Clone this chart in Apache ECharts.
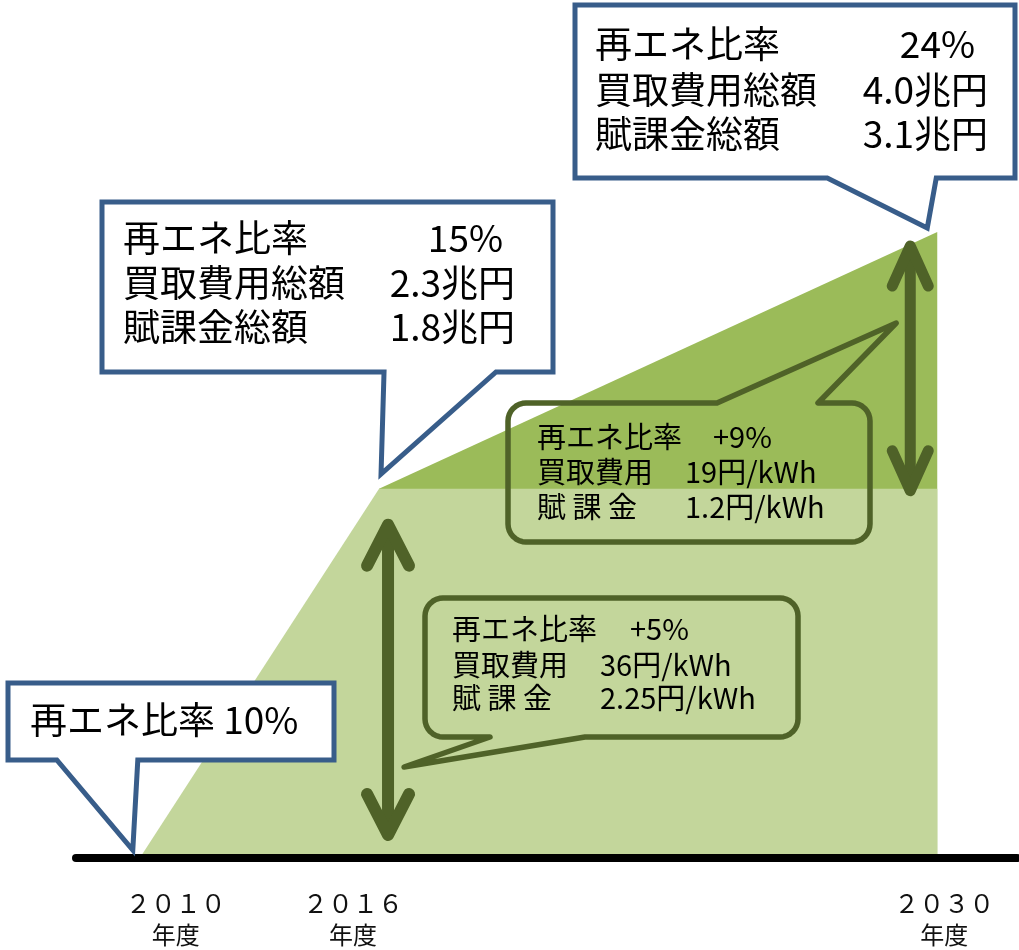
<!DOCTYPE html>
<html>
<head>
<meta charset="utf-8">
<script src="https://cdn.jsdelivr.net/npm/echarts@6.0.0/dist/echarts.min.js"></script>
<style>
html,body{margin:0;padding:0;background:#fff;}
#chart{width:1019px;height:950px;}
</style>
</head>
<body>
<div id="chart"></div>
<script>
// ---- data (schematic heights; 0 = axis, 100 = 2030 top) ----
const years = [2010, 2016, 2030];
const yearLabels = ['２０１０', '２０１６', '２０３０'];
const yearSuffix = '年度';
const levelBase = [0, 59, 59];      // light band (level reached by 2016)
const levelAdd = [null, 0, 41];     // dark band (increase 2016 → 2030)

const note2010 = '再エネ比率 10%';
const note2016 = [['再エネ比率', '15%'], ['買取費用総額', '2.3兆円'], ['賦課金総額', '1.8兆円']];
const note2030 = [['再エネ比率', '24%'], ['買取費用総額', '4.0兆円'], ['賦課金総額', '3.1兆円']];
const step1 = [['再エネ比率', '+5%'], ['買取費用', '36円/kWh'], ['賦 課 金', '2.25円/kWh']];
const step2 = [['再エネ比率', '+9%'], ['買取費用', '19円/kWh'], ['賦 課 金', '1.2円/kWh']];

// ---- styles ----
const FONT = '"Noto Sans CJK JP", "Noto Sans", sans-serif';
const LIGHT = '#c3d69b', DARK = '#9bbb59', OLIVE = '#4f6228', BLUE = '#385d8a';

const chart = echarts.init(document.getElementById('chart'), null, {renderer: 'canvas'});

const labelShift = {
  d0: [0, 0, 0, 72], d1: [0, 52, 0, 0], d2: [0, 0, 0, 14]
};
const rich = {};
[0, 1, 2].forEach(i => {
  rich['d' + i] = {fontSize: 25, fontFamily: FONT, color: '#111', lineHeight: 32, padding: labelShift['d' + i]};
  rich['n' + i] = {fontSize: 24, fontFamily: FONT, color: '#111', lineHeight: 32, padding: labelShift['d' + i]};
});

// total level (base + increment) for the upper band
const levelTotal = levelAdd.map((v, i) => v == null ? null : levelBase[i] + v);

chart.setOption({
  animation: false,
  backgroundColor: '#fff',
  grid: {left: 76, right: 2, top: 232, bottom: 92, containLabel: false, outerBoundsMode: 'none'},
  xAxis: {
    type: 'value', min: 2008.4, max: 2032, z: 5,
    axisLine: {show: true, onZero: true, lineStyle: {color: '#000', width: 8}},
    axisTick: {show: false},
    splitLine: {show: false},
    axisLabel: {
      customValues: years,
      margin: 29,
      formatter: function (v) {
        const i = years.indexOf(v);
        return '{d' + i + '|' + yearLabels[i] + '}\n{n' + i + '|' + yearSuffix + '}';
      },
      rich: rich
    }
  },
  yAxis: {type: 'value', min: 0, max: 100, show: false},
  series: [
    {
      name: 'upper', type: 'line', symbol: 'none', showSymbol: false, z: 1,
      data: years.map((y, i) => [y, levelTotal[i]]).filter(d => d[1] != null),
      lineStyle: {width: 0, opacity: 0},
      areaStyle: {color: DARK, opacity: 1}
    },
    {
      name: 'base', type: 'line', symbol: 'none', showSymbol: false, z: 2,
      data: years.map((y, i) => [y, levelBase[i]]),
      lineStyle: {width: 0, opacity: 0},
      areaStyle: {color: LIGHT, opacity: 1}
    }
  ]
});

// ---- annotations anchored to the chart's own scale ----
const P = (x, y) => chart.convertToPixel({seriesIndex: 1}, [x, y]);
const p10 = P(2010, 0), p16 = P(2016, 59), p30 = P(2030, 100);
const y0 = P(2010, 0)[1];
const d10 = p10[0] - 150, d16 = p16[0] - 360, d30 = p30[0] - 943;

function bubble(x, y, w, h, r, side, a, tip, b) {
  const pts = [];
  const arc = (cx, cy, a0, a1) => {
    if (r === 0) { pts.push([cx, cy]); return; }
    for (let k = 0; k <= 8; k++) {
      const t = (a0 + (a1 - a0) * k / 8) * Math.PI / 180;
      pts.push([cx + r * Math.cos(t), cy + r * Math.sin(t)]);
    }
  };
  arc(x + r, y + r, 180, 270);
  if (side === 'top') pts.push([a, y], tip, [b, y]);
  arc(x + w - r, y + r, 270, 360);
  arc(x + w - r, y + h - r, 0, 90);
  if (side === 'bottom') pts.push([b, y + h], tip, [a, y + h]);
  arc(x + r, y + h - r, 90, 180);
  return pts;
}

function txt(text, x, y, size, align, z) {
  return {
    type: 'text', z: z, silent: true,
    style: {text: text, x: x, y: y, fill: '#000', fontSize: size, fontFamily: FONT,
      textAlign: align, textVerticalAlign: 'middle', align: align, verticalAlign: 'middle'}
  };
}

function arrow(x, yTop, yBot, halfW, headLen, lw) {
  const st = {stroke: OLIVE, lineWidth: lw, lineCap: 'round', lineJoin: 'round', fill: null};
  return [
    {type: 'line', z: 12, silent: true, shape: {x1: x, y1: yTop + 2, x2: x, y2: yBot - 2}, style: st},
    {type: 'polyline', z: 12, silent: true, shape: {points: [[x - halfW, yTop + headLen], [x, yTop], [x + halfW, yTop + headLen]]}, style: st},
    {type: 'polyline', z: 12, silent: true, shape: {points: [[x - halfW, yBot - headLen], [x, yBot], [x + halfW, yBot - headLen]]}, style: st}
  ];
}

const g = [];
const blueStyle = {fill: '#fff', stroke: BLUE, lineWidth: 5, lineJoin: 'miter'};
const greenStyle = {fill: null, stroke: OLIVE, lineWidth: 5.5, lineJoin: 'round'};

// arrows
g.push(...arrow(p16[0] + 9, p16[1] + 36, y0 - 23, 21, 41, 12));
g.push(...arrow(p30[0] - 27, p30[1] + 14, p16[1] + 2, 18, 40, 11));

// green callouts (increments)
g.push({type: 'polygon', z: 14, silent: true,
  shape: {points: bubble(425, 598, 373, 139, 18, 'bottom', 490, [385 + d16, 767], 585)}, style: greenStyle});
const g1Rows = [629, 665, 698], g1ValX = [630, 600, 600];
step1.forEach((r, i) => { g.push(txt(r[0], 452, g1Rows[i], 29, 'left', 15)); g.push(txt(r[1], g1ValX[i], g1Rows[i], 29, 'left', 15)); });

g.push({type: 'polygon', z: 14, silent: true,
  shape: {points: bubble(508, 403, 362, 139, 18, 'top', 717, [902 + d30, 323], 818)}, style: greenStyle});
const g2Rows = [437, 472, 507], g2ValX = [713, 685, 685];
step2.forEach((r, i) => { g.push(txt(r[0], 537, g2Rows[i], 29, 'left', 15)); g.push(txt(r[1], g2ValX[i], g2Rows[i], 29, 'left', 15)); });

// blue callouts (levels)
g.push({type: 'polygon', z: 20, silent: true,
  shape: {points: bubble(8, 683, 326, 77, 0, 'bottom', 67 + d10, [143 + d10, 850], 148 + d10)}, style: blueStyle});
g.push(txt(note2010, 30, 720, 37, 'left', 21));

g.push({type: 'polygon', z: 20, silent: true,
  shape: {points: bubble(102, 202, 451, 170, 0, 'bottom', 365 + d16, [362 + d16, 474], 477 + d16)}, style: blueStyle});
const b2Rows = [238, 283, 327], b2ValR = [503, 515, 515];
note2016.forEach((r, i) => { g.push(txt(r[0], 123, b2Rows[i], 37, 'left', 21)); g.push(txt(r[1], b2ValR[i], b2Rows[i], 37, 'right', 21)); });

g.push({type: 'polygon', z: 20, silent: true,
  shape: {points: bubble(575, 5, 440, 173, 0, 'bottom', 833 + d30, [933 + d30, 228], 942 + d30)}, style: blueStyle});
const b3Rows = [44, 90, 134], b3ValR = [975, 988, 988];
note2030.forEach((r, i) => { g.push(txt(r[0], 595, b3Rows[i], 37, 'left', 21)); g.push(txt(r[1], b3ValR[i], b3Rows[i], 37, 'right', 21)); });

chart.setOption({graphic: {elements: g}});
</script>
</body>
</html>
